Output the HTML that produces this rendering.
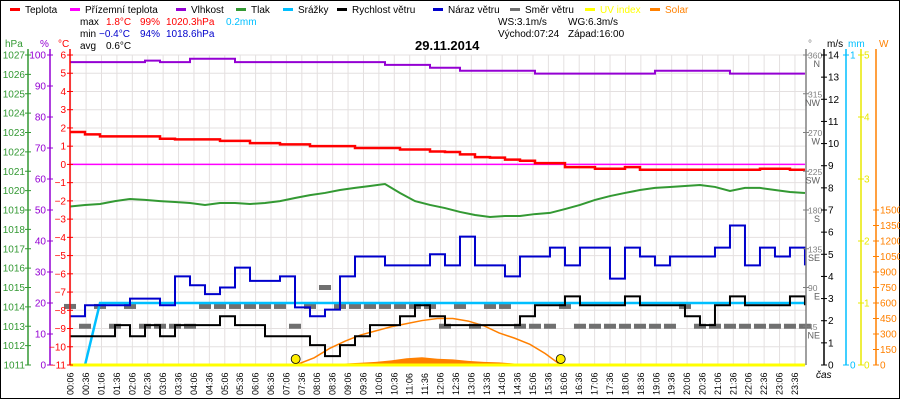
<!DOCTYPE html>
<html><head><meta charset="utf-8">
<style>
html,body{margin:0;padding:0;background:#fff;}
svg{display:block;font-family:"Liberation Sans",sans-serif;}
</style></head>
<body>
<svg id="chart" width="900" height="400" viewBox="0 0 900 400" xmlns="http://www.w3.org/2000/svg">
<rect x="0.5" y="0.5" width="899" height="398" fill="#fff" stroke="#000"/>
<g id="grid"></g>
<g id="series"></g>
<g id="axes"></g>
<g id="legend"></g>
<g font-size="10">
 <text x="80" y="25" fill="#000">max</text><text x="106" y="25" fill="#f00">1.8°C</text><text x="140" y="25" fill="#f00">99%</text><text x="166" y="25" fill="#f00">1020.3hPa</text><text x="226" y="25" fill="#00bfff">0.2mm</text>
 <text x="80" y="37" fill="#000">min</text><text x="99" y="37" fill="#00c">−0.4°C</text><text x="140" y="37" fill="#00c">94%</text><text x="166" y="37" fill="#00c">1018.6hPa</text>
 <text x="80" y="49" fill="#000">avg</text><text x="106" y="49" fill="#000">0.6°C</text>
 <text x="498" y="25" fill="#000">WS:3.1m/s</text><text x="568" y="25" fill="#000">WG:6.3m/s</text>
 <text x="498" y="37" fill="#000">Východ:07:24</text><text x="568" y="37" fill="#000">Západ:16:00</text>
</g>
<text x="415" y="50" font-size="13" font-weight="bold" fill="#000">29.11.2014</text>
</svg>
<script>
const sampleStartMin = 4.7;
const sampleStepMin = 29.2;
const temperature = [1.78,1.65,1.54,1.54,1.54,1.54,1.41,1.37,1.37,1.37,1.29,1.29,1.17,1.17,1.1,1.1,1.0,1.0,1.0,0.9,0.9,0.9,0.82,0.82,0.71,0.68,0.55,0.4,0.37,0.26,0.2,0.07,0.07,-0.15,-0.15,-0.24,-0.24,-0.15,-0.29,-0.29,-0.29,-0.29,-0.29,-0.29,-0.29,-0.29,-0.24,-0.24,-0.29,-0.29];
const feelsLike = [0,0,0,0,0,0,0,0,0,0,0,0,0,0,0,0,0,0,0,0,0,0,0,0,0,0,0,0,0,0,0,0,0,0,0,0,0,0,0,0,0,0,0,0,0,0,0,0,0,0];
const humidity = [97.7,97.7,97.7,97.7,97.7,98.2,97.7,97.7,98.8,98.8,98.8,97.7,97.7,97.7,97.7,97.7,97.7,97.7,97.7,97.7,97.7,96.8,96.8,96.8,95.9,95.9,94.9,94.9,94.9,94.9,94.9,94.0,94.0,94.0,94.0,94.0,94.0,94.0,94.0,94.9,94.9,94.9,94.9,94.9,94.0,94.0,94.0,94.0,94.0,94.0];
const pressure = [1019.18,1019.26,1019.31,1019.46,1019.57,1019.52,1019.46,1019.41,1019.36,1019.26,1019.36,1019.36,1019.31,1019.36,1019.46,1019.62,1019.77,1019.88,1020.03,1020.14,1020.24,1020.34,1019.88,1019.46,1019.26,1019.10,1018.90,1018.74,1018.64,1018.69,1018.69,1018.79,1018.85,1019.05,1019.26,1019.52,1019.72,1019.88,1020.03,1020.14,1020.19,1020.24,1020.29,1020.19,1019.98,1020.14,1020.14,1020.03,1019.93,1019.88];
const rain = [0,0,0.2,0.2,0.2,0.2,0.2,0.2,0.2,0.2,0.2,0.2,0.2,0.2,0.2,0.2,0.2,0.2,0.2,0.2,0.2,0.2,0.2,0.2,0.2,0.2,0.2,0.2,0.2,0.2,0.2,0.2,0.2,0.2,0.2,0.2,0.2,0.2,0.2,0.2,0.2,0.2,0.2,0.2,0.2,0.2,0.2,0.2,0.2,0.2];
const windSpeed = [1.3,1.3,1.3,1.8,1.3,1.8,1.3,1.8,1.8,1.8,2.2,1.8,1.8,1.3,1.3,1.3,0.9,0.4,0.9,1.3,1.8,1.8,2.2,2.7,2.2,1.8,1.8,1.8,1.8,1.8,2.2,2.7,2.7,3.1,2.7,2.7,2.7,3.1,2.7,2.7,2.7,2.2,1.8,2.7,3.1,2.7,2.7,2.7,3.1,2.7];
const windGust = [2.2,2.7,2.7,2.7,3.0,3.0,2.7,4.0,3.6,3.2,3.5,4.4,3.8,3.8,4.0,2.6,2.2,2.5,4.0,4.9,4.9,4.5,4.5,4.5,5.0,4.5,5.8,4.5,4.5,4.0,4.9,4.9,5.3,4.5,5.3,5.3,3.9,5.3,4.9,4.5,4.9,4.9,4.9,5.3,6.3,4.5,5.3,4.9,5.3,4.5];
const windDir = [68,45,68,45,68,45,45,45,45,68,68,68,68,68,68,45,68,90,68,68,68,68,68,68,68,45,68,45,68,68,45,45,45,68,45,45,45,45,45,45,45,68,45,45,45,45,45,45,45,45];
const solarTimes = [7.4,8,8.5,9,9.5,10,10.5,11,11.5,12,12.5,13,13.5,14,14.5,15,15.5,16];
const solarMax = [0,70,160,230,290,330,370,400,430,450,450,425,380,310,260,200,110,0];
const solarActual = [0,3,6,15,22,30,45,65,75,60,55,40,30,25,15,10,5,0];
const uvIndex = [0,0,0,0,0,0,0,0,0,0,0,0,0,0,0,0,0,0,0,0,0,0,0,0,0,0,0,0,0,0,0,0,0,0,0,0,0,0,0,0,0,0,0,0,0,0,0,0,0,0];
const sunEvents = [7.4, 16.0];
const hpaTicks = [1027,1026,1025,1024,1023,1022,1021,1020,1019,1018,1017,1016,1015,1014,1013,1012,1011];
const pctTicks = [100,90,80,70,60,50,40,30,20,10,0];
const tempTicks = [6,5,4,3,2,1,0,-1,-2,-3,-4,-5,-6,-7,-8,-9,-10,-11];
const dirTicks = [360,315,270,225,180,135,90,45];
const dirNames = ["N","NW","W","SW","S","SE","E","NE"];
const msTicks = [14,13,12,11,10,9,8,7,6,5,4,3,2,1,0];
const mmTicks = [1,0];
const uvTicks = [5,4,3,2,1,0];
const wTicks = [1500,1350,1200,1050,900,750,600,450,300,150,0];

const NS='http://www.w3.org/2000/svg';
const TOP=55, BOT=365, X0=67.6, PXH=30.82, XR=806;
const xT = t => X0 + t*PXH;
const yTemp = v => TOP + (6 - v)*(BOT-TOP)/17;
const yHpa = v => TOP + (1027 - v)*(BOT-TOP)/16;
const yPct = v => BOT - v*(BOT-TOP)/100;
const yMs = v => BOT - v*(BOT-TOP)/14;
const yDeg = v => BOT - v*(BOT-TOP)/360;
const yMm = v => BOT - v*(BOT-TOP)/1;
const yUv = v => BOT - v*(BOT-TOP)/5;
const yW = v => BOT - v*(BOT-TOP)/3000;
const sampleT = i => (sampleStartMin + i*sampleStepMin)/60;

function mk(tag, attrs, parent){const e=document.createElementNS(NS,tag);for(const k in attrs)e.setAttribute(k,attrs[k]);parent.appendChild(e);return e;}
const grid=document.getElementById('grid'), ser=document.getElementById('series'), ax=document.getElementById('axes'), leg=document.getElementById('legend');

for(let i=0;i<48;i++){const x=xT(0.1+i*0.5);
 const l=mk('line',{x1:x,x2:x,y1:TOP,y2:BOT,stroke:'#e4e0e0','stroke-width':1},grid);
 
 
 const hh=String(Math.floor((6+i*30)/60)).padStart(2,'0'), mm=String((6+i*30)%60).padStart(2,'0');
 const tx=mk('text',{x:0,y:0,'font-size':9,fill:'#000',transform:`translate(${x+3},395) rotate(-90)`},ax);
 tx.textContent=hh+':'+mm;
 
 
}
tempTicks.forEach(v=>{const y=yTemp(v);
 const l=mk('line',{x1:70,x2:XR,y1:y,y2:y,stroke:'#e4e0e0','stroke-width':1},grid);
 
 
});

function poly(vals, ty, color, name, step, w){
 let d='';
 vals.forEach((v,i)=>{const x=xT(sampleT(i)), y=ty(v);
  if(i===0) d+=`M${x},${y}`; else if(step){d+=`H${x}V${y}`;} else d+=`L${x},${y}`;});
 const p=mk('path',{d:d,fill:'none',stroke:color,'stroke-width':w||2},ser);
 
 
}
(function(){
 let d=`M${xT(solarTimes[0])},${BOT}`;
 solarTimes.forEach((t,i)=>{d+=`L${xT(t)},${yW(solarActual[i])}`;});
 d+=`L${xT(solarTimes[solarTimes.length-1])},${BOT}Z`;
 const a=mk('path',{d:d,fill:'#ff8000'},ser);
 
 
 let d2='';
 solarTimes.forEach((t,i)=>{d2+=(i?'L':'M')+xT(t)+','+yW(solarMax[i]);});
 const c=mk('path',{d:d2,fill:'none',stroke:'#ff8000','stroke-width':1.5},ser);
 
 
})();
windDir.forEach((v,i)=>{const x=xT(sampleT(i));
 const r=mk('rect',{x:x-6,y:yDeg(v)-2.5,width:12,height:5,fill:'#707070'},ser);
 
 
});
poly(pressure,yHpa,'#339933','pressure-line',false,2);
poly(humidity,yPct,'#9400d3','humidity-line',true,2);
poly(feelsLike,yTemp,'#ff00ff','feels-like-line',false,1.5);
poly(temperature,yTemp,'#ff0000','temperature-line',true,2.5);
poly(rain,yMm,'#00bfff','rain-line',false,2.5);
poly(windGust,yMs,'#0000cc','wind-gust-line',true,2);
poly(windSpeed,yMs,'#000000','wind-speed-line',true,2);
poly(uvIndex,yUv,'#ffff00','uv-index-line',false,3);
sunEvents.forEach(t=>{
 const c=mk('circle',{cx:xT(t),cy:359,r:4.5,fill:'#ffee00',stroke:'#000','stroke-width':0.8},ser);
 
 
});

function axis(x,color,ticks,yf,lx,anchor,name,fs){
 const l=mk('line',{x1:x,x2:x,y1:TOP-6,y2:BOT,stroke:color,'stroke-width':1.5},ax);
 
 
 ticks.forEach((v,i)=>{const y=yf(v);
  mk('line',{x1:x-3,x2:x+3,y1:y,y2:y,stroke:color,'stroke-width':1},ax);
  const t=mk('text',{x:lx,y:y+3.5,'font-size':fs||10,fill:color,'text-anchor':anchor},ax);
  t.textContent=String(v).replace('-','−');
  
  
 });
}
axis(28,'#339933',hpaTicks,yHpa,25,'end','hpa-axis');
axis(50,'#9400d3',pctTicks,yPct,46,'end','humidity-axis');
axis(70,'#ff0000',tempTicks,yTemp,66,'end','temperature-axis');
axis(806,'#808080',dirTicks,yDeg,808,'start','direction-axis',8.5);
axis(824,'#000000',msTicks,yMs,828,'start','wind-speed-axis');
axis(846,'#00bfff',mmTicks,yMm,850,'start','rain-axis');
axis(861,'#e8e800',uvTicks,yUv,864,'start','uv-axis');
axis(876,'#ff8000',wTicks,yW,880,'start','solar-axis');
dirTicks.forEach((v,i)=>{const t=mk('text',{x:820,y:yDeg(v)+12,'font-size':9,fill:'#606060','text-anchor':'end'},ax);t.textContent=dirNames[i];
 
 });
[['hPa',5,'#339933'],['%',40,'#9400d3'],['°C',58,'#ff0000'],['°',808,'#808080'],['m/s',827,'#000'],['mm',848,'#00bfff'],['W',879,'#ff8000']].forEach(a=>{
 const t=mk('text',{x:a[1],y:47,'font-size':10,fill:a[2]},ax);t.textContent=a[0];
 
 });
const cas=mk('text',{x:816,y:378,'font-size':10,fill:'#000','font-style':'italic'},ax);cas.textContent='čas';



[['Teplota','#ff0000',10],['Přízemní teplota','#ff00ff',70],['Vlhkost','#9400d3',176],['Tlak','#339933',236],['Srážky','#00bfff',283],['Rychlost větru','#000',337],['Náraz větru','#0000cc',433],['Směr větru','#707070',510],['UV index','#ffff00',585],['Solar','#ff8000',650]].forEach(a=>{
 const g=mk('g',{},leg);
 
 
 mk('rect',{x:a[2],y:8,width:10,height:3,fill:a[1]},g);
 const t=mk('text',{x:a[2]+15,y:13,'font-size':10,fill:(a[1]==='#ffff00'||a[1]==='#ff8000')?a[1]:'#000'},g);t.textContent=a[0];
});
</script>
</body></html>
